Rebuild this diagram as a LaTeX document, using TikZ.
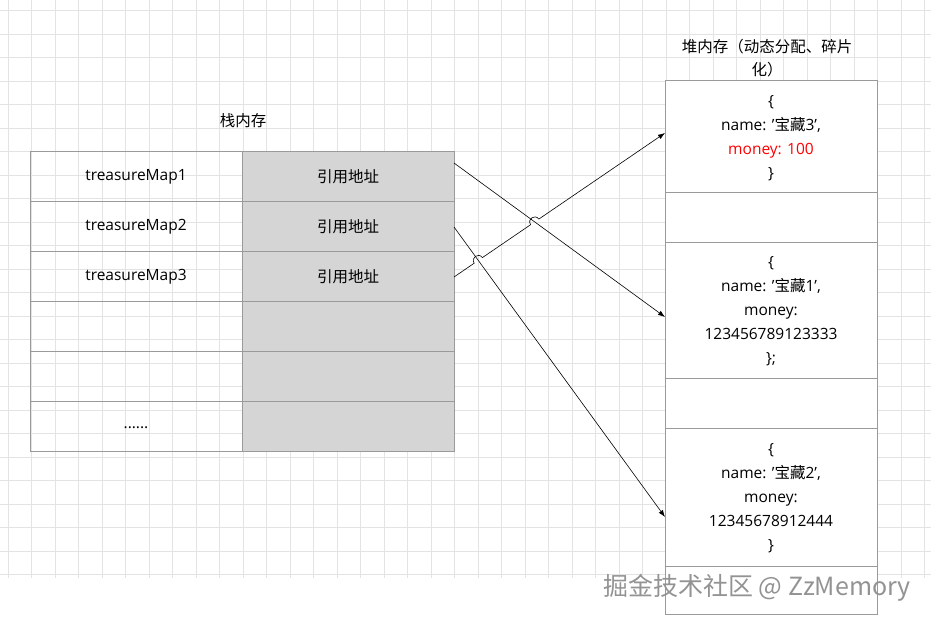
\documentclass[tikz,border=0pt]{standalone}
\usepackage{fontspec}
\setmainfont{Open Sans}
\newfontfamily\cjk{Noto Sans CJK SC}
\usetikzlibrary{arrows.meta}
\definecolor{gridgray}{HTML}{E3E3E3}
\definecolor{cellgray}{HTML}{D5D5D5}
\definecolor{boxline}{HTML}{9A9A9A}
\begin{document}
\begin{tikzpicture}[x=1pt, y=-1pt,
            cell/.style={draw=boxline, line width=.7pt},
            txt/.style={font=\fontsize{15.5}{18}\selectfont, align=center, inner sep=0pt},
            ptr/.style={draw, line width=.6pt, -{Latex[length=7pt,width=5pt]}},
            >=Latex]
    \useasboundingbox (0,0) rectangle (931,622);
    \fill[white] (0,0) rectangle (931,622);
    % background grid
    \foreach \gx in {8.2,31.7,...,931} \draw[gridgray, line width=.6pt] (\gx,0) -- (\gx,578);
    \foreach \gy in {10.7,34.2,...,578} \draw[gridgray, line width=.6pt] (0,\gy) -- (931,\gy);
    % stack
    \fill[cellgray] (242,151) rectangle (454,451);
    \foreach \ry in {151,201,...,401} {
        \draw[cell] (30,\ry) rectangle (242,\ry+50);
        \draw[cell] (242,\ry) rectangle (454,\ry+50);
    }
    \node[txt] (stack) at (243,121) {\cjk 栈内存};
    \node[txt] (name1) at (136,177) {treasureMap1};
    \node[txt] (name2) at (136,227) {treasureMap2};
    \node[txt] (name3) at (136,277) {treasureMap3};
    \node[txt] (dots) at (136,428) {......};
    \node[txt] (ref1) at (348,177) {\cjk 引用地址};
    \node[txt] (ref2) at (348,227) {\cjk 引用地址};
    \node[txt] (ref3) at (348,277) {\cjk 引用地址};
    % heap
    \fill[white] (665,80) rectangle (877,614);
    \foreach \ya/\yb in {80/192,192/242,242/378,378/428,428/566,566/614}
        \draw[cell] (665,\ya) rectangle (877,\yb);
    \node[txt, font=\cjk\fontsize{15.5}{23}\selectfont, text width=200pt] (heap) at (767,58) {堆内存（动态分配、碎片\\化）};
    \node[txt, font=\fontsize{15.5}{24}\selectfont] (obj3) at (771,138) {\{\\name: '{\cjk 宝藏}3',\\\textcolor{red}{money: 100}\\\}};
    \node[txt, font=\fontsize{15.5}{24}\selectfont] (obj1) at (771,311) {\{\\name: '{\cjk 宝藏}1',\\money:\\123456789123333\\\};};
    \node[txt, font=\fontsize{15.5}{24}\selectfont] (obj2) at (771,498) {\{\\name: '{\cjk 宝藏}2',\\money:\\12345678912444\\\}};
    % pointers
    \coordinate (s1) at (454,163);
    \coordinate (s2) at (454,227);
    \coordinate (s3) at (454,277);
    \coordinate (h1) at (665,317);
    \coordinate (h2) at (665,517);
    \coordinate (h3) at (665,133);
    \draw[ptr] (s1) -- (h1);
    \draw[ptr] (s2) -- (h2);
    \draw[ptr] (s3) -- (474.2,263.2) .. controls (470.4,257.7) and (478.6,252.1) .. (482.4,257.6)
        -- (530.6,224.7) .. controls (526.8,219.2) and (535.0,213.6) .. (538.8,219.1) -- (h3);
    % watermark
    \node[txt, font=\cjk\fontsize{25}{28}\selectfont, text=gray!85] (mark) at (757,588) {掘金技术社区 @ ZzMemory};
\end{tikzpicture}
\end{document}
